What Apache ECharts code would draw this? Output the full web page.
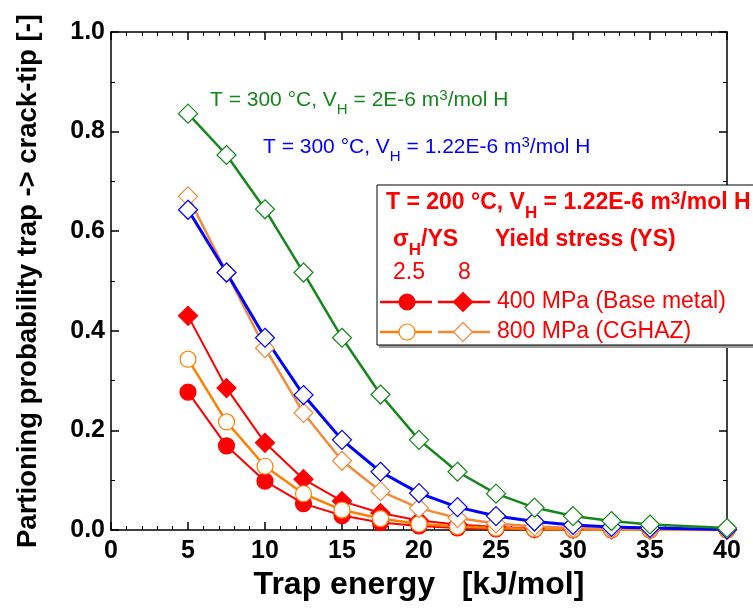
<!DOCTYPE html>
<html><head><meta charset="utf-8">
<script src="https://cdn.jsdelivr.net/npm/echarts@6/dist/echarts.min.js"></script>
<style>html,body{margin:0;padding:0;background:#fff}#c{width:753px;height:615px}</style>
</head><body><div id="c"></div>
<script>
const xVals = [5,7.5,10,12.5,15,17.5,20,22.5,25,27.5,30,32.5,35,40];
const redCircle = [0.277,0.169,0.098,0.053,0.029,0.015,0.008,0.004,0.002,0.001,0.0006,0.0003,0.0002,0.0001];
const redDiamond = [0.430,0.285,0.175,0.102,0.058,0.034,0.019,0.011,0.006,0.003,0.002,0.001,0.0005,0.0001];
const orangeCircle = [0.343,0.217,0.128,0.073,0.040,0.023,0.012,0.007,0.004,0.002,0.001,0.0006,0.0003,0.0001];
const orangeDiamond = [0.670,0.517,0.365,0.235,0.139,0.078,0.044,0.024,0.013,0.007,0.004,0.002,0.001,0.0003];
const blueDiamond = [0.643,0.517,0.386,0.271,0.181,0.117,0.074,0.046,0.028,0.017,0.010,0.006,0.004,0.001];
const greenDiamond = [0.836,0.753,0.644,0.517,0.386,0.272,0.181,0.117,0.073,0.045,0.028,0.018,0.011,0.004];
const xTicks = [0,5,10,15,20,25,30,35,40];
const yTicks = [0.0,0.2,0.4,0.6,0.8,1.0];

const FONT = '"Liberation Sans", Arial, sans-serif';
const RED = '#ff0000', OR1 = '#ff8000', OR2 = '#f28a3c', BLUE = '#0000ff', GREEN = '#14871a';

function pairs(xs, ys){ return xs.map((x,i)=>[x, ys[i]]); }

function mk(name, xs, ys, color, symbol, size, filled, width){
  return {
    name, type:'line', data: pairs(xs, ys), symbol, symbolSize: size,
    showAllSymbol: true, clip: false,
    lineStyle:{color, width},
    itemStyle:{color: filled ? color : '#ffffff', borderColor: color, borderWidth: 1.2},
    emphasis:{disabled:true}, animation:false
  };
}

function richText(bold, size, color){
  const fw = bold ? 'bold' : 'normal';
  const s2 = Math.round(size*0.72);
  const dn = Math.round(size*0.45*2), up = Math.round(size*0.18*2);
  return {
    b:{fontSize:size, fontWeight:fw, fontFamily:FONT, color:color, verticalAlign:'middle'},
    sub:{fontSize:s2, fontWeight:fw, fontFamily:FONT, color:color, verticalAlign:'middle', padding:[dn,0,0,0]},
    sup:{fontSize:s2, fontWeight:fw, fontFamily:FONT, color:color, verticalAlign:'middle', padding:[0,0,up,0]}
  };
}
function rtext(x, y, str, size, color, bold){
  return {type:'text', x, y, z:100, style:{text:str, rich:richText(bold,size,color), fontSize:size, fontFamily:FONT, fill:color, verticalAlign:'middle', align:'left'}};
}
function ptext(x, y, str, size, color, bold){
  return {type:'text', x, y, z:100, style:{text:str, fontSize:size, fontWeight: bold?'bold':'normal', fontFamily:FONT, fill:color, verticalAlign:'middle', align:'left'}};
}
function diamond(cx, cy, s, stroke, fill){
  const h = s/2;
  return {type:'polygon', z:101, shape:{points:[[cx,cy-h],[cx+h,cy],[cx,cy+h],[cx-h,cy]]}, style:{fill, stroke, lineWidth:1.2}};
}
function seg(x1,x2,y,color){
  return {type:'line', z:100, shape:{x1,y1:y,x2,y2:y}, style:{stroke:color, lineWidth:2.5}};
}

const chart = echarts.init(document.getElementById('c'), null, {renderer:'canvas'});
function axisBase(extra){
  return Object.assign({
    type:'value', min:0,
    axisLine:{show:true, onZero:false, lineStyle:{color:'#000', width:1.5}},
    axisTick:{show:true, inside:true, length:8, lineStyle:{color:'#000', width:1.5}},
    splitLine:{show:false}
  }, extra);
}
chart.setOption({
  animation:false,
  backgroundColor:'#fff',
  grid:{left:111, top:32, width:616, height:498, containLabel:false, outerBoundsMode:'none'},
  xAxis:[
    axisBase({max:40, interval:5, position:'bottom',
      minorTick:{show:true, splitNumber:5, length:4, lineStyle:{color:'#000', width:1}},
      axisLabel:{color:'#000', fontSize:25, fontWeight:'bold', fontFamily:FONT, margin:9,
        formatter:v=> xTicks.includes(v) ? String(v) : ''},
      name:'Trap energy   [kJ/mol]', nameLocation:'middle', nameGap:38,
      nameTextStyle:{color:'#000', fontSize:32, fontWeight:'bold', fontFamily:FONT}}),
    axisBase({max:40, interval:5, position:'top',
      minorTick:{show:true, splitNumber:5, length:4, lineStyle:{color:'#000', width:1}},
      axisLabel:{show:false}})
  ],
  yAxis:[
    axisBase({max:1, interval:0.2, position:'left',
      minorTick:{show:true, splitNumber:2, length:4, lineStyle:{color:'#000', width:1}},
      axisLabel:{color:'#000', fontSize:25, fontWeight:'bold', fontFamily:FONT, margin:6,
        formatter:v=> v.toFixed(1)},
      name:'Partioning probability trap -> crack-tip [-]', nameLocation:'middle', nameGap:69,
      nameTextStyle:{color:'#000', fontSize:27.5, fontWeight:'bold', fontFamily:FONT}}),
    axisBase({max:1, interval:0.2, position:'right',
      minorTick:{show:true, splitNumber:2, length:4, lineStyle:{color:'#000', width:1}},
      axisLabel:{show:false}})
  ],
  series:[
    mk('400 MPa, 8', xVals, redDiamond, RED, 'diamond', 19, true, 2),
    mk('400 MPa, 2.5', xVals, redCircle, RED, 'circle', 16, true, 2),
    mk('800 MPa, 2.5', xVals, orangeCircle, OR1, 'circle', 16, false, 2.5),
    mk('800 MPa, 8', xVals, orangeDiamond, OR2, 'diamond', 19, false, 2.5),
    mk('T=300, VH=1.22E-6', xVals, blueDiamond, BLUE, 'diamond', 19, false, 3),
    mk('T=300, VH=2E-6', xVals, greenDiamond, GREEN, 'diamond', 19, false, 2.5)
  ],
  graphic:[
    rtext(210, 100, '{b|T = 300 °C, V}{sub|H}{b| = 2E-6 m}{sup|3}{b|/mol H}', 21, GREEN, false),
    rtext(263, 147, '{b|T = 300 °C, V}{sub|H}{b| = 1.22E-6 m}{sup|3}{b|/mol H}', 21, BLUE, false),
    {type:'rect', z:98, shape:{x:379, y:187, width:380, height:161}, style:{fill:'#9a9a9a'}},
    {type:'rect', z:99, shape:{x:377, y:185, width:380, height:160}, style:{fill:'#fff', stroke:'#000', lineWidth:1}},
    rtext(386, 203, '{b|T = 200 °C, V}{sub|H}{b| = 1.22E-6 m}{sup|3}{b|/mol H}', 23, RED, true),
    rtext(393, 240, '{b|σ}{sub|H}{b|/YS}', 23, RED, true),
    ptext(495, 240, 'Yield stress (YS)', 23, RED, true),
    ptext(393, 273, '2.5', 23, RED, false),
    ptext(458, 273, '8', 23, RED, false),
    seg(380, 432, 302, RED),
    {type:'circle', z:101, shape:{cx:407, cy:302, r:8}, style:{fill:RED, stroke:RED}},
    seg(438, 490, 302, RED),
    diamond(463, 302, 19, RED, RED),
    ptext(497, 302, '400 MPa (Base metal)', 23, RED, false),
    seg(380, 432, 332, OR1),
    {type:'circle', z:101, shape:{cx:407, cy:332, r:8}, style:{fill:'#fff', stroke:OR1, lineWidth:1.2}},
    seg(438, 490, 332, OR2),
    diamond(463, 332, 19, OR2, '#fff'),
    ptext(497, 332, '800 MPa (CGHAZ)', 23, RED, false)
  ]
});
</script></body></html>
